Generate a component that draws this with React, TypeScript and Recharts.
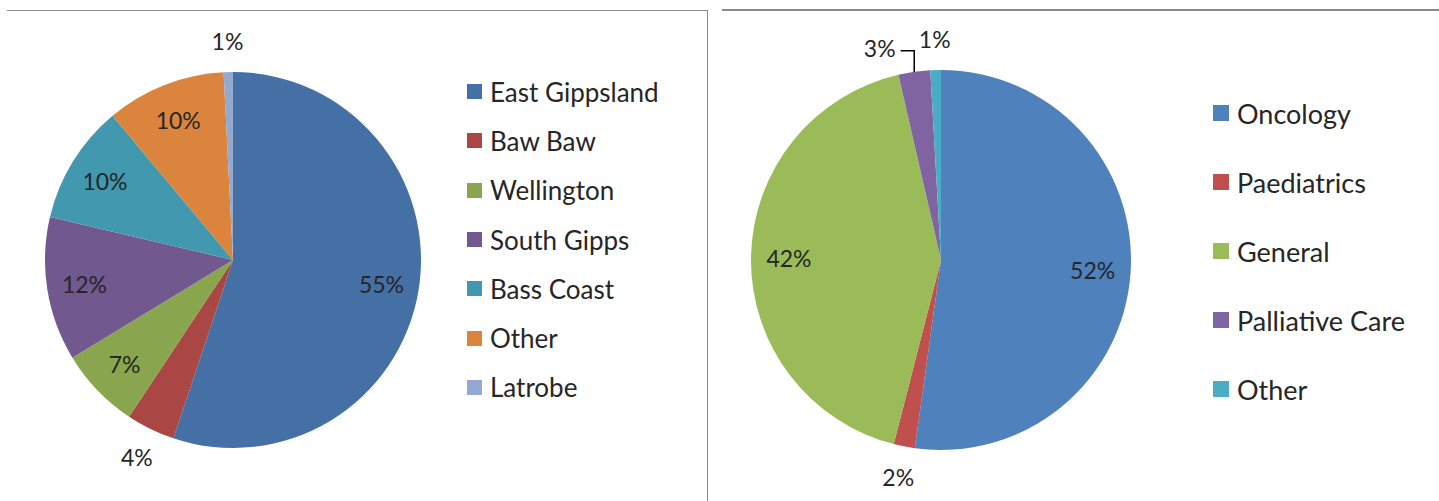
import React from 'react';
import { PieChart, Pie, Cell, Legend } from 'recharts';

// Left chart: region
const regionNames = ['East Gippsland', 'Baw Baw', 'Wellington', 'South Gipps', 'Bass Coast', 'Other', 'Latrobe'];
const regionValues = [55.3, 4.2, 7.0, 12.4, 10.3, 10.3, 0.8];
const regionColors = ['#4470a6', '#aa4643', '#89a54e', '#71588f', '#4198af', '#db843d', '#93a9cf'];

// Right chart: ward type
const wardNames = ['Oncology', 'Paediatrics', 'General', 'Palliative Care', 'Other'];
const wardValues = [52.2, 1.8, 42.4, 2.7, 0.9];
const wardColors = ['#4f81bd', '#c0504d', '#9bbb59', '#8064a2', '#4bacc6'];

// labels pushed sideways (degrees, counter-clockwise) with a leader line
const leaderShift: Record<string, number> = { 'Palliative Care': 8 };

const FONT = 'Lato, "Open Sans", sans-serif';
const TEXT = '#262626';
const RAD = Math.PI / 180;
const NO_MARGIN = { top: 0, right: 0, bottom: 0, left: 0 };

const regionData = regionNames.map((name, i) => ({ name, value: regionValues[i], color: regionColors[i] }));
const wardData = wardNames.map((name, i) => ({ name, value: wardValues[i], color: wardColors[i] }));

function renderLabel(props: any) {
  const { cx, cy, midAngle, outerRadius, percent, name } = props;
  const pct = `${Math.round(percent * 100)}%`;
  const outside = percent < 0.05;
  const shift = leaderShift[name] ?? 0;
  const r = outside ? outerRadius + 31 : outerRadius * 0.8;
  const a = midAngle + shift;
  const x = cx + r * Math.cos(-a * RAD);
  const y = cy + r * Math.sin(-a * RAD);
  let leader = null;
  if (shift) {
    const ex = cx + outerRadius * Math.cos(-midAngle * RAD);
    const ey = cy + outerRadius * Math.sin(-midAngle * RAD);
    const sx = x + 21;
    leader = <polyline points={`${sx},${y + 3} ${ex},${y + 3} ${ex},${ey}`} fill="none" stroke="#000" strokeWidth={1.5} />;
  }
  return (
    <g>
      {leader}
      <text x={x} y={y} textAnchor="middle" dominantBaseline="central" fontSize={23} fontFamily={FONT} fill={TEXT}>
        {pct}
      </text>
    </g>
  );
}

function makeLegend(items: { name: string; color: string }[], rowGap: number, box: number, size: number) {
  return () => (
    <div style={{ fontFamily: FONT }}>
      {items.map((it, i) => (
        <div key={i} style={{ display: 'flex', alignItems: 'center', height: rowGap }}>
          <span style={{ display: 'inline-block', width: box, height: box, background: it.color, marginRight: 8 }} />
          <span style={{ fontSize: size, color: TEXT, whiteSpace: 'nowrap' }}>{it.name}</span>
        </div>
      ))}
    </div>
  );
}

export default function App() {
  return (
    <div style={{ position: 'absolute', left: 0, top: 0, width: 1439, height: 501, background: '#fff', overflow: 'hidden' }}>
      {/* left frame */}
      <div style={{ position: 'absolute', left: 7, top: 10, width: 700, height: 500, borderTop: '1.5px solid #8a8a8a', borderRight: '1.5px solid #8a8a8a' }} />
      {/* right frame */}
      <div style={{ position: 'absolute', left: 722, top: 9, width: 717, height: 0, borderTop: '2px solid #8a8a8a' }} />

      <div style={{ position: 'absolute', left: 7, top: 10 }}>
        <PieChart width={698} height={491} margin={NO_MARGIN}>
          <Pie
            data={regionData}
            dataKey="value"
            nameKey="name"
            cx={226}
            cy={250}
            outerRadius={188}
            startAngle={90}
            endAngle={-270}
            stroke="none"
            label={renderLabel}
            labelLine={false}
            isAnimationActive={false}
          >
            {regionData.map((d, i) => <Cell key={i} fill={d.color} />)}
          </Pie>
          <Legend
            layout="vertical"
            content={makeLegend(regionData, 49.3, 15, 26)}
            wrapperStyle={{ left: 460, top: 57, width: 235 }}
          />
        </PieChart>
      </div>

      <div style={{ position: 'absolute', left: 722, top: 10 }}>
        <PieChart width={717} height={491} margin={NO_MARGIN}>
          <Pie
            data={wardData}
            dataKey="value"
            nameKey="name"
            cx={219}
            cy={250}
            outerRadius={190}
            startAngle={90}
            endAngle={-270}
            stroke="none"
            label={renderLabel}
            labelLine={false}
            isAnimationActive={false}
          >
            {wardData.map((d, i) => <Cell key={i} fill={d.color} />)}
          </Pie>
          <Legend
            layout="vertical"
            content={makeLegend(wardData, 69, 16, 27)}
            wrapperStyle={{ left: 491, top: 68.5, width: 225 }}
          />
        </PieChart>
      </div>
    </div>
  );
}
